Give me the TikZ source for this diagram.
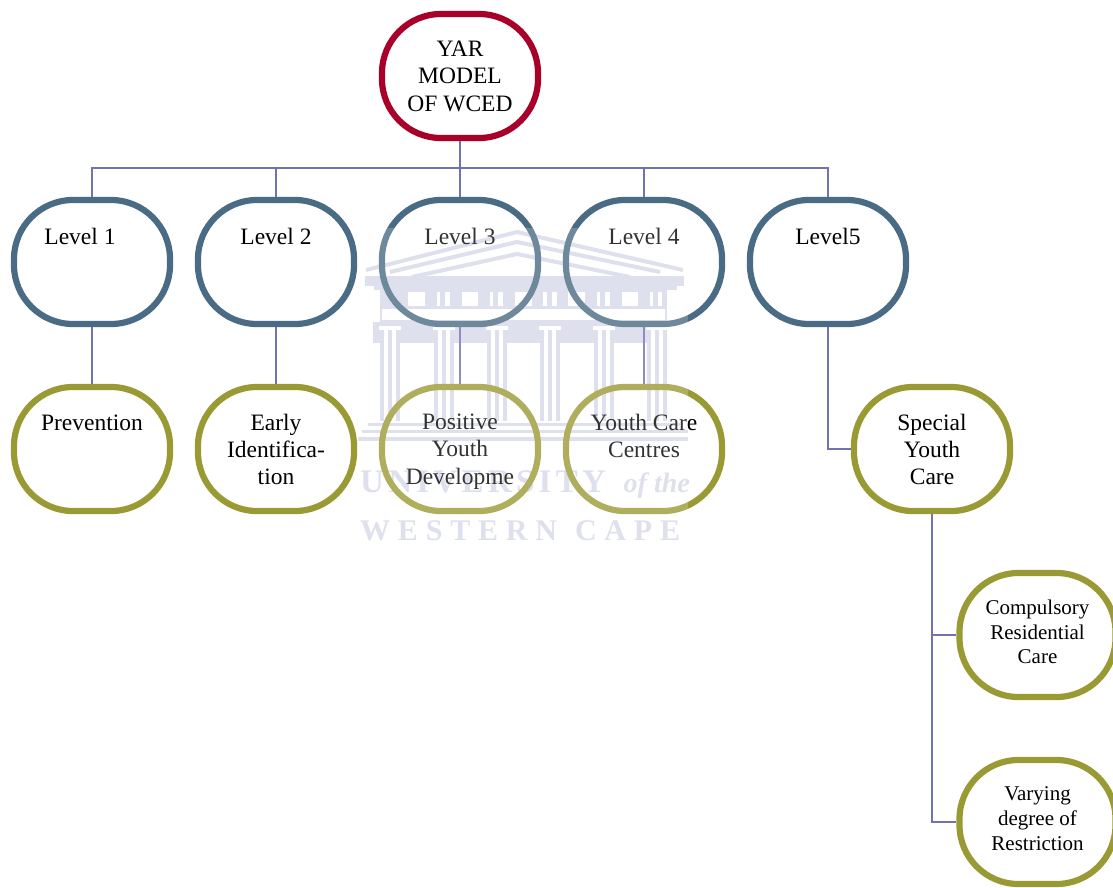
\documentclass[tikz,border=0pt]{standalone}
\usepackage{fontspec}
\setmainfont{Liberation Serif}
\newfontfamily\wmfonta[LetterSpace=13]{Liberation Serif}
\newfontfamily\wmfontb[LetterSpace=26]{Liberation Serif}
\definecolor{redc}{HTML}{A80028}
\definecolor{bluec}{HTML}{4A6B84}
\definecolor{olivec}{HTML}{9A9A34}
\definecolor{linkc}{HTML}{7272AE}
\definecolor{wm}{HTML}{D6D9E9}
\newcommand\boxtxt[2]{\begin{minipage}[c][118pt][t]{156pt}\centering\fontsize{23.5}{27.3}\selectfont\vspace*{#1}#2\end{minipage}}
\newcommand\boxsm[2]{\begin{minipage}[c][118pt][t]{156pt}\centering\fontsize{21}{24.6}\selectfont\vspace*{#1}#2\end{minipage}}
\tikzset{
  x=1pt,y=-1pt,
  pill/.style={draw,rounded corners=59pt,line width=6.2pt,minimum width=156pt,minimum height=124pt,inner sep=0pt,anchor=center},
  topbox/.style={pill,draw=redc},
  levelbox/.style={pill,draw=bluec},
  resultbox/.style={pill,draw=olivec},
  link/.style={draw=linkc,line width=1.6pt},
  wmband/.style={fill=wm,draw=none},
  wmline/.style={draw=wm,line width=4pt},
  wmtext/.style={text=wm,inner sep=0pt}
}
\begin{document}
\begin{tikzpicture}
\useasboundingbox (0,0) rectangle (1113,888);
% watermark building
\draw[wmline,line join=miter] (366,270) -- (517,232) -- (683,270);
\draw[wmline] (390,272) -- (517,242) -- (660,272);
\draw[wmline] (412,277) -- (517,254) -- (630,277);
\fill[wmband] (365,276) rectangle (684,286);
\fill[wmband] (374,286) rectangle (677,290);
\fill[wmband] (380,290) rectangle (667,322);
\fill[white] (382,309) rectangle (665,320);
\foreach \a/\b in {408/425,437/440,445/450,462/478,490/493,498/503,515/532,543/547,552/557,568/585,597/600,605/610,622/638,650/653,658/662}{\fill[white] (\a,292) rectangle (\b,306);}
\fill[wmband] (373,322) rectangle (667,343);
\foreach \c in {390,444,497,550,604,657}{
  \fill[white] (\c-11,326) rectangle (\c+11,330);
  \fill[white] (\c-10,330) rectangle (\c+10,343);
  \fill[wmband] (\c-10,330) rectangle (\c-6,421);
  \fill[wmband] (\c-2,330) rectangle (\c+2,421);
  \fill[wmband] (\c+6,330) rectangle (\c+10,421);
}
\fill[wmband] (368,423) rectangle (680,426);
\fill[wmband] (362,430) rectangle (688,433);
\fill[wmband] (358,437) rectangle (688,441);
\node[wmtext,anchor=base west,font=\wmfonta\bfseries\fontsize{33}{33}\selectfont] (wmuniv) at (360,492) {UNIVERSITY};
\node[wmtext,anchor=base east,font=\itshape\bfseries\fontsize{28}{28}\selectfont] (wmof) at (690,492) {of the};
\node[wmtext,anchor=base west,font=\wmfontb\bfseries\fontsize{30}{30}\selectfont] (wmwest) at (360,540) {WESTERN\hspace{18pt}CAPE};
% nodes
\node[topbox] (yar) at (460,76) {\boxtxt{24pt}{YAR\\MODEL\\OF WCED}};
\node[levelbox] (l1) at (92,262) {\boxtxt{25pt}{\hspace*{-24pt}Level 1}};
\node[levelbox] (l2) at (276,262) {\boxtxt{25pt}{Level 2}};
\node[levelbox] (l3) at (460,262) {\boxtxt{25pt}{Level 3}};
\node[levelbox] (l4) at (644,262) {\boxtxt{25pt}{Level 4}};
\node[levelbox] (l5) at (828,262) {\boxtxt{25pt}{Level5}};
\node[resultbox] (prev) at (92,449) {\boxtxt{25pt}{Prevention}};
\node[resultbox] (early) at (276,449) {\boxtxt{24pt}{Early\\Identifica-\\tion}};
\node[resultbox] (pos) at (460,449) {\boxtxt{24pt}{Positive\\Youth\\Developme}};
\node[resultbox] (care) at (644,449) {\boxtxt{24pt}{Youth Care\\Centres}};
\node[resultbox] (spec) at (932,449) {\boxtxt{24pt}{Special\\Youth\\Care}};
\node[resultbox] (comp) at (1037.5,635) {\boxsm{24pt}{Compulsory\\Residential\\Care}};
\node[resultbox] (vary) at (1037.5,822) {\boxsm{24pt}{Varying\\degree of\\Restriction}};
% connectors
\coordinate (bus) at (460,168);
\path[link] (yar.south) -- (bus);
\foreach \n in {l1,l2,l3,l4,l5}{\path[link] (\n.north) |- (bus);}
\path[link] (l1.south) -- (prev.north);
\path[link] (l2.south) -- (early.north);
\path[link] (l3.south) -- (pos.north);
\path[link] (l4.south) -- (care.north);
\path[link] (l5.south) |- (spec.west);
\path[link] (spec.south) |- (comp.west);
\path[link] (spec.south) |- (vary.west);
% veil of the watermark
\fill[white,opacity=0.2] (358,228) rectangle (688,545);
\end{tikzpicture}
\end{document}
